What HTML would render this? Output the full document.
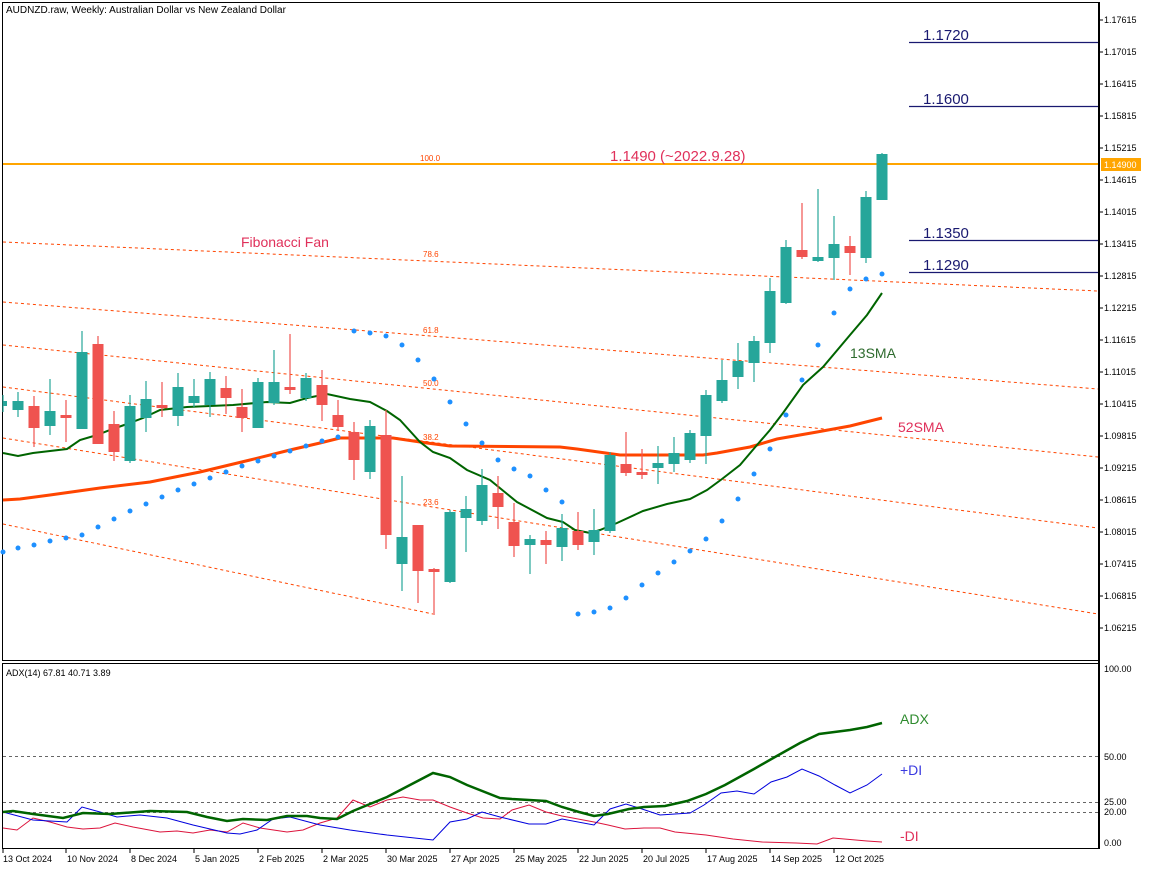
<!DOCTYPE html>
<html><head><meta charset="utf-8"><style>
html,body{margin:0;padding:0;background:#fff;}
svg{display:block;font-family:"Liberation Sans",sans-serif;}
</style></head><body>
<svg width="1152" height="870" viewBox="0 0 1152 870" xmlns="http://www.w3.org/2000/svg">
<rect width="1152" height="870" fill="#fff"/>
<!-- frames -->
<rect x="2.5" y="2.5" width="1096" height="658" fill="none" stroke="#000" stroke-width="1"/>
<rect x="2.5" y="663.5" width="1096" height="185" fill="none" stroke="#000" stroke-width="1"/>
<line x1="1099" y1="2" x2="1099" y2="849" stroke="#000" stroke-width="2"/>
<text x="6" y="13" font-size="10" fill="#000">AUDNZD.raw, Weekly:  Australian Dollar vs New Zealand Dollar</text>

<!-- price axis -->
<g font-size="9" fill="#000">
<text x="1104" y="23">1.17615</text><text x="1104" y="55">1.17015</text><text x="1104" y="87">1.16415</text><text x="1104" y="119">1.15815</text><text x="1104" y="151">1.15215</text><text x="1104" y="183">1.14615</text><text x="1104" y="215">1.14015</text><text x="1104" y="247">1.13415</text><text x="1104" y="279">1.12815</text><text x="1104" y="311">1.12215</text><text x="1104" y="343">1.11615</text><text x="1104" y="375">1.11015</text><text x="1104" y="407">1.10415</text><text x="1104" y="439">1.09815</text><text x="1104" y="471">1.09215</text><text x="1104" y="503">1.08615</text><text x="1104" y="535">1.08015</text><text x="1104" y="567">1.07415</text><text x="1104" y="599">1.06815</text><text x="1104" y="631">1.06215</text>
</g>
<g stroke="#000" stroke-width="1">
<line x1="1099" y1="20" x2="1103" y2="20"/><line x1="1099" y1="52" x2="1103" y2="52"/><line x1="1099" y1="84" x2="1103" y2="84"/><line x1="1099" y1="116" x2="1103" y2="116"/><line x1="1099" y1="148" x2="1103" y2="148"/><line x1="1099" y1="180" x2="1103" y2="180"/><line x1="1099" y1="212" x2="1103" y2="212"/><line x1="1099" y1="244" x2="1103" y2="244"/><line x1="1099" y1="276" x2="1103" y2="276"/><line x1="1099" y1="308" x2="1103" y2="308"/><line x1="1099" y1="340" x2="1103" y2="340"/><line x1="1099" y1="372" x2="1103" y2="372"/><line x1="1099" y1="404" x2="1103" y2="404"/><line x1="1099" y1="436" x2="1103" y2="436"/><line x1="1099" y1="468" x2="1103" y2="468"/><line x1="1099" y1="500" x2="1103" y2="500"/><line x1="1099" y1="532" x2="1103" y2="532"/><line x1="1099" y1="564" x2="1103" y2="564"/><line x1="1099" y1="596" x2="1103" y2="596"/><line x1="1099" y1="628" x2="1103" y2="628"/>
</g>

<!-- fib fan -->
<g stroke="#ff4500" stroke-width="1" stroke-dasharray="3,3" fill="none">
<line x1="3" y1="242" x2="1098" y2="291"/>
<line x1="3" y1="302" x2="1098" y2="389"/>
<line x1="3" y1="345" x2="1098" y2="457"/>
<line x1="3" y1="387" x2="1098" y2="528"/>
<line x1="3" y1="438" x2="1098" y2="614"/>
<line x1="3" y1="524" x2="433" y2="614"/>
</g>
<g font-size="8" fill="#ff4500">
<text x="420" y="161">100.0</text><text x="423" y="257">78.6</text><text x="423" y="333">61.8</text><text x="423" y="386">50.0</text><text x="423" y="440">38.2</text><text x="423" y="505">23.6</text>
</g>
<text x="241" y="247" font-size="14" fill="#e0305a">Fibonacci Fan</text>

<!-- levels -->
<line x1="3" y1="164" x2="1098" y2="164" stroke="#ffa500" stroke-width="2"/>
<rect x="1101" y="158" width="40" height="13" fill="#ffa500"/>
<text x="1104" y="168" font-size="9" fill="#fff">1.14900</text>
<text x="610" y="161" font-size="15" fill="#e0305a">1.1490 (~2022.9.28)</text>
<g stroke="#191970" stroke-width="1.3">
<line x1="909" y1="42.5" x2="1098" y2="42.5"/><line x1="909" y1="106.5" x2="1098" y2="106.5"/><line x1="909" y1="240.5" x2="1098" y2="240.5"/><line x1="909" y1="272.5" x2="1098" y2="272.5"/>
</g>
<g font-size="15" fill="#191970">
<text x="923" y="40">1.1720</text><text x="923" y="104">1.1600</text><text x="923" y="238">1.1350</text><text x="923" y="270">1.1290</text>
</g>

<!-- SMA52 -->
<polyline fill="none" stroke="#ff4500" stroke-width="3" points="3,500 20,499 50,495 100,488 150,482 200,472 250,460 290,450 320,443 340,438 393,438 427,443 450,446 560,447 577,449 620,455 703,455 717,453 750,447 777,439 817,432 850,426 882,418"/>
<!-- SMA13 -->
<polyline fill="none" stroke="#006400" stroke-width="2" points="3,453 18,456 33,453 67,449 80,440 97,435 110,430 127,424 143,418 160,410 187,407 233,405 267,402 290,403 307,398 327,394 350,399 370,402 387,411 400,420 420,442 433,452 450,458 467,470 490,480 517,502 547,518 563,522 575,530 590,533 600,530 617,523 643,511 667,504 690,499 707,490 722,479 740,465 757,445 770,430 783,413 803,385 823,367 850,335 867,315 882,293"/>
<text x="850" y="358" font-size="14" fill="#2e6b2e">13SMA</text>
<text x="898" y="432" font-size="14" fill="#e0305a">52SMA</text>

<!-- SAR -->
<g fill="#1e90ff">
<circle cx="3" cy="552" r="2.5"/><circle cx="18" cy="548" r="2.5"/><circle cx="34" cy="545" r="2.5"/><circle cx="50" cy="541" r="2.5"/><circle cx="66" cy="538" r="2.5"/><circle cx="82" cy="535" r="2.5"/><circle cx="98" cy="527" r="2.5"/><circle cx="114" cy="519" r="2.5"/><circle cx="130" cy="511" r="2.5"/><circle cx="146" cy="504" r="2.5"/><circle cx="162" cy="497" r="2.5"/><circle cx="178" cy="490" r="2.5"/><circle cx="194" cy="484" r="2.5"/><circle cx="210" cy="478" r="2.5"/><circle cx="226" cy="472" r="2.5"/><circle cx="242" cy="466" r="2.5"/><circle cx="258" cy="461" r="2.5"/><circle cx="274" cy="456" r="2.5"/><circle cx="290" cy="451" r="2.5"/><circle cx="306" cy="446" r="2.5"/><circle cx="322" cy="441" r="2.5"/><circle cx="338" cy="437" r="2.5"/><circle cx="354" cy="331" r="2.5"/><circle cx="370" cy="333" r="2.5"/><circle cx="386" cy="336" r="2.5"/><circle cx="402" cy="345" r="2.5"/><circle cx="418" cy="360" r="2.5"/><circle cx="434" cy="379" r="2.5"/><circle cx="450" cy="402" r="2.5"/><circle cx="466" cy="424" r="2.5"/><circle cx="482" cy="443" r="2.5"/><circle cx="498" cy="460" r="2.5"/><circle cx="514" cy="469" r="2.5"/><circle cx="530" cy="476" r="2.5"/><circle cx="546" cy="490" r="2.5"/><circle cx="562" cy="502" r="2.5"/><circle cx="578" cy="614" r="2.5"/><circle cx="594" cy="612" r="2.5"/><circle cx="610" cy="608" r="2.5"/><circle cx="626" cy="598" r="2.5"/><circle cx="642" cy="585" r="2.5"/><circle cx="658" cy="573" r="2.5"/><circle cx="674" cy="562" r="2.5"/><circle cx="690" cy="551" r="2.5"/><circle cx="706" cy="539" r="2.5"/><circle cx="722" cy="521" r="2.5"/><circle cx="738" cy="499" r="2.5"/><circle cx="754" cy="474" r="2.5"/><circle cx="770" cy="449" r="2.5"/><circle cx="786" cy="415" r="2.5"/><circle cx="802" cy="380" r="2.5"/><circle cx="818" cy="345" r="2.5"/><circle cx="834" cy="313" r="2.5"/><circle cx="850" cy="289" r="2.5"/><circle cx="866" cy="279" r="2.5"/><circle cx="882" cy="274" r="2.5"/>
</g>

<!-- candles: teal -->
<g stroke="#26a69a" fill="#26a69a" stroke-width="1.2">
<line x1="3" y1="395" x2="3" y2="412"/><rect x="3" y="401" width="4" height="5" stroke="none"/>
<line x1="18" y1="392" x2="18" y2="417"/><rect x="12.5" y="401" width="11" height="9" stroke="none"/>
<line x1="50" y1="379" x2="50" y2="435"/><rect x="44.5" y="411" width="11" height="15" stroke="none"/>
<line x1="82" y1="331" x2="82" y2="429"/><rect x="76.5" y="352" width="11" height="77" stroke="none"/>
<line x1="130" y1="395" x2="130" y2="463"/><rect x="124.5" y="406" width="11" height="55" stroke="none"/>
<line x1="146" y1="381" x2="146" y2="432"/><rect x="140.5" y="399" width="11" height="19" stroke="none"/>
<line x1="178" y1="373" x2="178" y2="426"/><rect x="172.5" y="387" width="11" height="29" stroke="none"/>
<line x1="194" y1="379" x2="194" y2="407"/><rect x="188.5" y="396" width="11" height="7" stroke="none"/>
<line x1="210" y1="372" x2="210" y2="417"/><rect x="204.5" y="379" width="11" height="26" stroke="none"/>
<line x1="258" y1="378" x2="258" y2="428"/><rect x="252.5" y="382" width="11" height="46" stroke="none"/>
<line x1="274" y1="350" x2="274" y2="405"/><rect x="268.5" y="382" width="11" height="21" stroke="none"/>
<line x1="306" y1="373" x2="306" y2="401"/><rect x="300.5" y="378" width="11" height="20" stroke="none"/>
<line x1="370" y1="420" x2="370" y2="479"/><rect x="364.5" y="426" width="11" height="46" stroke="none"/>
<line x1="402" y1="476" x2="402" y2="591"/><rect x="396.5" y="537" width="11" height="27" stroke="none"/>
<line x1="450" y1="510" x2="450" y2="583"/><rect x="444.5" y="512" width="11" height="70" stroke="none"/>
<line x1="466" y1="496" x2="466" y2="552"/><rect x="460.5" y="509" width="11" height="9" stroke="none"/>
<line x1="482" y1="469" x2="482" y2="525"/><rect x="476.5" y="485" width="11" height="36" stroke="none"/>
<line x1="530" y1="535" x2="530" y2="574"/><rect x="524.5" y="539" width="11" height="6" stroke="none"/>
<line x1="562" y1="514" x2="562" y2="561"/><rect x="556.5" y="528" width="11" height="19" stroke="none"/>
<line x1="594" y1="509" x2="594" y2="555"/><rect x="588.5" y="530" width="11" height="12" stroke="none"/>
<line x1="610" y1="452" x2="610" y2="533"/><rect x="604.5" y="455" width="11" height="76" stroke="none"/>
<line x1="658" y1="446" x2="658" y2="484"/><rect x="652.5" y="463" width="11" height="5" stroke="none"/>
<line x1="674" y1="437" x2="674" y2="472"/><rect x="668.5" y="453" width="11" height="11" stroke="none"/>
<line x1="690" y1="430" x2="690" y2="463"/><rect x="684.5" y="433" width="11" height="27" stroke="none"/>
<line x1="706" y1="390" x2="706" y2="464"/><rect x="700.5" y="395" width="11" height="41" stroke="none"/>
<line x1="722" y1="360" x2="722" y2="403"/><rect x="716.5" y="380" width="11" height="21" stroke="none"/>
<line x1="738" y1="343" x2="738" y2="389"/><rect x="732.5" y="361" width="11" height="16" stroke="none"/>
<line x1="754" y1="336" x2="754" y2="382"/><rect x="748.5" y="341" width="11" height="22" stroke="none"/>
<line x1="770" y1="278" x2="770" y2="353"/><rect x="764.5" y="291" width="11" height="52" stroke="none"/>
<line x1="786" y1="240" x2="786" y2="304"/><rect x="780.5" y="247" width="11" height="56" stroke="none"/>
<line x1="818" y1="189" x2="818" y2="262"/><rect x="812.5" y="257" width="11" height="4" stroke="none"/>
<line x1="834" y1="216" x2="834" y2="280"/><rect x="828.5" y="244" width="11" height="14" stroke="none"/>
<line x1="866" y1="191" x2="866" y2="263"/><rect x="860.5" y="197" width="11" height="61" stroke="none"/>
<line x1="882" y1="153" x2="882" y2="200"/><rect x="876.5" y="154" width="11" height="46" stroke="none"/>
</g>
<!-- candles: red -->
<g stroke="#ef5350" fill="#ef5350" stroke-width="1.2">
<line x1="34" y1="396" x2="34" y2="447"/><rect x="28.5" y="406" width="11" height="22" stroke="none"/>
<line x1="66" y1="400" x2="66" y2="442"/><rect x="60.5" y="415" width="11" height="3" stroke="none"/>
<line x1="98" y1="336" x2="98" y2="444"/><rect x="92.5" y="344" width="11" height="100" stroke="none"/>
<line x1="114" y1="411" x2="114" y2="461"/><rect x="108.5" y="424" width="11" height="28" stroke="none"/>
<line x1="162" y1="382" x2="162" y2="417"/><rect x="156.5" y="405" width="11" height="3" stroke="none"/>
<line x1="226" y1="376" x2="226" y2="414"/><rect x="220.5" y="388" width="11" height="10" stroke="none"/>
<line x1="242" y1="389" x2="242" y2="432"/><rect x="236.5" y="407" width="11" height="11" stroke="none"/>
<line x1="290" y1="334" x2="290" y2="394"/><rect x="284.5" y="387" width="11" height="3" stroke="none"/>
<line x1="322" y1="370" x2="322" y2="421"/><rect x="316.5" y="385" width="11" height="20" stroke="none"/>
<line x1="338" y1="400" x2="338" y2="431"/><rect x="332.5" y="415" width="11" height="12" stroke="none"/>
<line x1="354" y1="422" x2="354" y2="480"/><rect x="348.5" y="432" width="11" height="28" stroke="none"/>
<line x1="386" y1="410" x2="386" y2="549"/><rect x="380.5" y="435" width="11" height="100" stroke="none"/>
<line x1="418" y1="525" x2="418" y2="603"/><rect x="412.5" y="525" width="11" height="46" stroke="none"/>
<line x1="434" y1="568" x2="434" y2="615"/><rect x="428.5" y="569" width="11" height="3" stroke="none"/>
<line x1="498" y1="476" x2="498" y2="529"/><rect x="492.5" y="493" width="11" height="14" stroke="none"/>
<line x1="514" y1="503" x2="514" y2="557"/><rect x="508.5" y="522" width="11" height="24" stroke="none"/>
<line x1="546" y1="531" x2="546" y2="564"/><rect x="540.5" y="540" width="11" height="5" stroke="none"/>
<line x1="578" y1="512" x2="578" y2="550"/><rect x="572.5" y="531" width="11" height="14" stroke="none"/>
<line x1="626" y1="432" x2="626" y2="476"/><rect x="620.5" y="464" width="11" height="9" stroke="none"/>
<line x1="642" y1="449" x2="642" y2="479"/><rect x="636.5" y="472" width="11" height="3" stroke="none"/>
<line x1="802" y1="203" x2="802" y2="259"/><rect x="796.5" y="250" width="11" height="7" stroke="none"/>
<line x1="850" y1="236" x2="850" y2="275"/><rect x="844.5" y="246" width="11" height="7" stroke="none"/>
</g>

<!-- ADX panel -->
<text x="6" y="676" font-size="9" fill="#000">ADX(14) 67.81 40.71 3.89</text>
<g stroke="#666" stroke-width="1" stroke-dasharray="3,3">
<line x1="3" y1="756.5" x2="1098" y2="756.5"/><line x1="3" y1="802.5" x2="1098" y2="802.5"/><line x1="3" y1="812.5" x2="1098" y2="812.5"/>
</g>
<g font-size="9" fill="#000">
<text x="1104" y="672">100.00</text><text x="1104" y="760">50.00</text><text x="1104" y="805">25.00</text><text x="1104" y="815">20.00</text><text x="1104" y="846">0.00</text>
</g>
<polyline fill="none" stroke="#dc143c" stroke-width="1" points="3,828 17,830 33,818 50,822 67,827 83,829 100,828 115,823 133,827 160,832 177,831 193,833 210,830 227,832 243,823 260,828 287,832 303,830 320,823 337,818 353,800 370,807 387,800 403,797 420,800 433,800 450,807 467,813 483,818 500,819 512,810 529,805 546,812 562,816 594,822 608,825 625,829 644,828 660,828 675,832 706,835 733,839 762,842 796,843 817,844 833,838 867,841 882,842"/>
<polyline fill="none" stroke="#0000dd" stroke-width="1" points="3,812 33,820 67,822 82,807 100,812 117,817 140,815 167,818 193,825 227,833 240,834 257,830 273,819 290,817 320,825 350,830 387,835 433,840 450,822 467,819 482,812 500,817 529,824 546,824 562,819 594,825 610,809 626,804 642,809 660,815 690,813 704,805 721,793 737,791 754,794 771,782 787,777 802,769 819,776 835,785 850,793 867,785 882,774"/>
<polyline fill="none" stroke="#006400" stroke-width="2.5" points="3,812 13,811 33,814 63,818 83,813 110,814 150,811 187,812 207,817 227,821 243,819 267,820 287,816 307,816 320,818 337,819 353,811 387,797 433,773 450,777 467,785 500,798 512,799 546,801 562,807 579,812 594,816 608,814 629,809 644,807 665,806 687,801 706,794 725,785 754,769 775,757 800,743 819,734 850,730 867,727 882,723"/>
<text x="900" y="724" font-size="14" fill="#2e8b2e">ADX</text>
<text x="900" y="775" font-size="14" fill="#3a3ae0">+DI</text>
<text x="900" y="841" font-size="14" fill="#e0305a">-DI</text>

<!-- date axis -->
<g stroke="#000" stroke-width="1">
<line x1="3" y1="849" x2="3" y2="853"/><line x1="66" y1="849" x2="66" y2="853"/><line x1="130" y1="849" x2="130" y2="853"/><line x1="194" y1="849" x2="194" y2="853"/><line x1="258" y1="849" x2="258" y2="853"/><line x1="322" y1="849" x2="322" y2="853"/><line x1="386" y1="849" x2="386" y2="853"/><line x1="450" y1="849" x2="450" y2="853"/><line x1="514" y1="849" x2="514" y2="853"/><line x1="578" y1="849" x2="578" y2="853"/><line x1="642" y1="849" x2="642" y2="853"/><line x1="706" y1="849" x2="706" y2="853"/><line x1="770" y1="849" x2="770" y2="853"/><line x1="834" y1="849" x2="834" y2="853"/>
</g>
<g font-size="9" fill="#000">
<text x="3" y="862">13 Oct 2024</text><text x="67" y="862">10 Nov 2024</text><text x="131" y="862">8 Dec 2024</text><text x="195" y="862">5 Jan 2025</text><text x="259" y="862">2 Feb 2025</text><text x="323" y="862">2 Mar 2025</text><text x="387" y="862">30 Mar 2025</text><text x="451" y="862">27 Apr 2025</text><text x="515" y="862">25 May 2025</text><text x="579" y="862">22 Jun 2025</text><text x="643" y="862">20 Jul 2025</text><text x="707" y="862">17 Aug 2025</text><text x="771" y="862">14 Sep 2025</text><text x="835" y="862">12 Oct 2025</text>
</g>
</svg>
</body></html>
